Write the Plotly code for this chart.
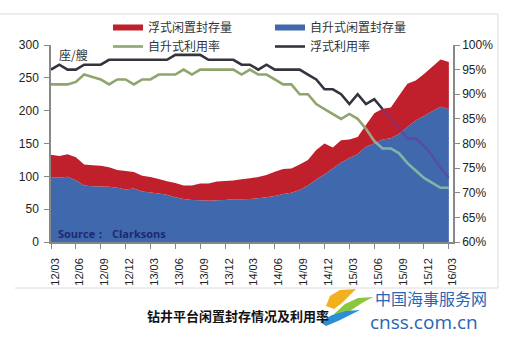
import plotly.graph_objects as go

# Monthly series, 2012/03 (index 0) .. 2016/03 (index 48)
quarter_labels = ["12/03", "12/06", "12/09", "12/12", "13/03", "13/06", "13/09", "13/12",
                  "14/03", "14/06", "14/09", "14/12", "15/03", "15/06", "15/09", "15/12", "16/03"]

# idle / cold-stacked rigs (units)
jackup_idle = [99, 98, 99.5, 94, 86, 85, 84.5, 84, 82.5, 80, 81.5, 77, 75.5, 74, 72, 68, 65.5,
               64, 63.5, 63, 63.5, 64, 65, 65, 65.5, 66.5, 68, 70, 73, 75, 79, 86, 95, 103,
               112, 121, 128, 134, 145, 150, 156, 158, 165, 175, 185, 192, 199, 206, 202]
floater_idle = [34, 33, 34, 35, 32, 32, 31.5, 30, 27, 28, 25, 24, 23.5, 22, 20.5, 22, 20.5,
                22, 25.5, 26, 28.5, 29, 28.5, 30.5, 31.5, 32.5, 34, 37, 38, 37, 39, 39, 45, 47,
                32, 34, 28, 26, 33, 46, 47, 47, 58, 66, 61, 64, 68, 72, 72]

# utilisation (%)
jackup_util = [92, 92, 92, 92.5, 94, 93.5, 93, 92, 93, 93, 92, 93, 93, 94, 94, 94, 95, 94, 95,
               95, 95, 95, 95, 94, 95, 94, 94, 93, 92, 92, 90, 90, 88, 87, 86, 85, 86, 85, 83,
               80.5, 79, 79, 78, 76, 74.5, 73, 72, 71, 71]
floater_util = [95, 96, 95, 95, 96, 96, 96, 97, 97, 97, 97, 97, 97, 97, 97, 98, 98, 98, 98,
                97, 97, 97, 97, 96, 96, 95, 96, 95, 95, 95, 95, 94, 93, 91, 91, 90, 88, 90, 88,
                89, 87, 85, 83, 81, 81, 79.5, 77.5, 75, 73]

months = list(range(len(jackup_idle)))
quarter_ticks = months[::3]

W, H = 515, 338
L, R, T, B = 51, 62, 45, 96
PW, PH = W - L - R, H - T - B


def px(x):
    return (x - L) / PW


def py(y):
    return (H - B - y) / PH


def path(points):
    d = "M " + " L ".join(f"{px(a):.4f},{py(b):.4f}" for a, b in points) + " Z"
    return d


RED = "#c0202b"
BLUE = "#4068ad"
GREEN = "#8ea56e"
DARK = "#34343e"

fig = go.Figure()

fig.add_trace(go.Scatter(x=months, y=jackup_idle, name="自升式闲置封存量", stackgroup="idle",
                         mode="none", fillcolor=BLUE, legendrank=2))
fig.add_trace(go.Scatter(x=months, y=floater_idle, name="浮式闲置封存量", stackgroup="idle",
                         mode="none", fillcolor=RED, legendrank=1))

# utilisation lines (right axis); the parts running over the stacked areas are lighter
fig.add_trace(go.Scatter(x=months[:39], y=jackup_util[:39], name="自升式利用率", yaxis="y2",
                         mode="lines", line=dict(color=GREEN, width=2.6), legendrank=3))
fig.add_trace(go.Scatter(x=months[38:], y=jackup_util[38:], yaxis="y2", showlegend=False,
                         mode="lines", line=dict(color="rgba(150,205,165,0.75)", width=2.6)))
fig.add_trace(go.Scatter(x=months[:41], y=floater_util[:41], name="浮式利用率", yaxis="y2",
                         mode="lines", line=dict(color=DARK, width=2.6), legendrank=4))
fig.add_trace(go.Scatter(x=months[40:], y=floater_util[40:], yaxis="y2", showlegend=False,
                         mode="lines", line=dict(color="rgba(110,50,160,0.5)", width=2.4)))

axis_font = dict(family="Liberation Sans, Arial, sans-serif", size=12, color="#222")

shapes = [
    dict(type="line", xref="paper", yref="paper", x0=px(0), x1=px(498), y0=py(14), y1=py(14),
         line=dict(color="#dcdcdc", width=1)),
    dict(type="line", xref="paper", yref="paper", x0=px(15), x1=px(498), y0=py(288), y1=py(288),
         line=dict(color="#dcdcdc", width=1)),
    dict(type="line", xref="paper", yref="paper", x0=px(498), x1=px(498), y0=py(14), y1=py(288),
         line=dict(color="#dcdcdc", width=1)),
    # site logo swooshes
    dict(type="path", xref="paper", yref="paper", line=dict(width=0), fillcolor="#f2b01e",
         path=path([(326, 306), (330, 296), (340, 290), (356, 289), (350, 295), (342, 303), (334, 309)])),
    dict(type="path", xref="paper", yref="paper", line=dict(width=0), fillcolor="#8cc63e",
         path=path([(334, 314), (345, 304), (358, 298), (373, 297), (362, 303), (350, 311), (340, 318)])),
    dict(type="path", xref="paper", yref="paper", line=dict(width=0), fillcolor="#2b8fd6",
         path=path([(320, 322), (332, 315), (346, 311), (360, 310), (350, 315), (338, 321), (326, 326)])),
]

annotations = [
    dict(text="座/艘", xref="paper", yref="paper", x=px(57), y=py(54), xanchor="left",
         yanchor="middle", showarrow=False,
         font=dict(family="Noto Sans CJK SC", size=12, color="#333")),
    dict(text="<b>Source：  Clarksons</b>", xref="paper", yref="paper", x=px(56), y=py(233),
         xanchor="left", yanchor="middle", showarrow=False,
         font=dict(family="Open Sans, sans-serif", size=11, color="#1c2a70")),
    dict(text="<b>钻井平台闲置封存情况及利用率</b>", xref="paper", yref="paper", x=px(145),
         y=py(315), xanchor="left", yanchor="middle", showarrow=False,
         font=dict(family="Noto Sans CJK SC", size=13, color="#111")),
    dict(text="中国海事服务网", xref="paper", yref="paper", x=px(373), y=py(298),
         xanchor="left", yanchor="middle", showarrow=False,
         font=dict(family="Noto Sans CJK SC", size=16, color="#2a64b4")),
    dict(text="cnss.com.cn", xref="paper", yref="paper", x=px(368), y=py(322),
         xanchor="left", yanchor="middle", showarrow=False,
         font=dict(family="Open Sans, sans-serif", size=19, color="#2a64b4")),
]

fig.update_layout(
    width=W, height=H,
    margin=dict(l=L, r=R, t=T, b=B, pad=0),
    paper_bgcolor="white", plot_bgcolor="white",
    showlegend=True,
    legend=dict(orientation="h", x=px(108), y=py(13), xanchor="left", yanchor="top",
                entrywidth=117, entrywidthmode="pixels", traceorder="normal",
                bgcolor="rgba(0,0,0,0)", itemwidth=30, tracegroupgap=0,
                font=dict(family="Noto Sans CJK SC", size=12, color="#333")),
    xaxis=dict(range=[0, 48.5], tickvals=quarter_ticks, ticktext=quarter_labels,
               tickangle=-90, ticks="outside", ticklen=5, tickcolor="#888",
               showline=True, linecolor="#888", linewidth=1.5, showgrid=False,
               zeroline=False, ticklabelshift=4, ticklabelstandoff=5,
               tickfont=dict(family="Liberation Sans, Arial, sans-serif", size=11, color="#222")),
    yaxis=dict(range=[0, 300], dtick=50, ticks="outside", ticklen=5, tickcolor="#888",
               showline=True, linecolor="#888", linewidth=1.5, showgrid=False,
               zeroline=False, tickfont=axis_font, ticklabelstandoff=3),
    yaxis2=dict(range=[60, 100], dtick=5, ticksuffix="%", overlaying="y", side="right",
                ticks="outside", ticklen=5, tickcolor="#888", showline=True,
                linecolor="#888", linewidth=1.5, showgrid=False, zeroline=False,
                tickfont=axis_font),
    shapes=shapes,
    annotations=annotations,
)

fig.write_html("out.html")
